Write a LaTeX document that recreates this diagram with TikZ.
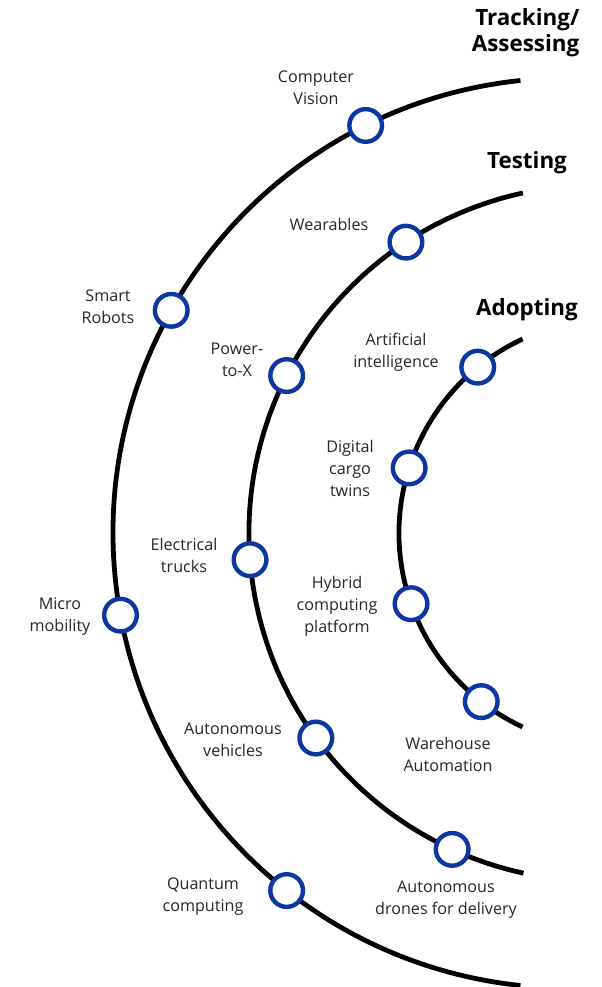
\documentclass[tikz,border=0pt]{standalone}
\usepackage{fontspec}
\setmainfont{Open Sans}
\definecolor{ringblue}{RGB}{12,55,160}
\begin{document}
\begin{tikzpicture}
    [x=0.75pt,y=0.75pt,
     track/.style={line width=3.6pt},
     dot/.style={circle,draw=ringblue,line width=3.3pt,fill=white,minimum size=24.5pt,inner sep=0pt},
     lbl/.style={align=center,font=\fontsize{12.1}{16.5}\selectfont,text=black!85},
     head/.style={align=right,font=\bfseries\fontsize{16.8}{19.5}\selectfont}]
    \useasboundingbox (0,0) rectangle (601,987);
    \coordinate (oc) at (568,454);
    \coordinate (mc) at (597,454);
    \coordinate (ic) at (613,454);
    \draw[track] (oc) ++(96:455) arc[start angle=96,end angle=264,radius=455];
    \draw[track] (mc) ++(102.3:348) arc[start angle=102.3,end angle=257.8,radius=348];
    \draw[track] (ic) ++(115:214) arc[start angle=115,end angle=245,radius=214];
    \node[head,anchor=east](ta) at (584,954){Tracking/\\Assessing};
    \node[head](te) at (527,824){Testing};
    \node[head](ad) at (527,677){Adopting};
    \node[dot](cv) at ([shift={(116.4:455)}]oc){};
    \node[dot](sr) at ([shift={(150.7:455)}]oc){};
    \node[dot](mm) at ([shift={(190.4:455)}]oc){};
    \node[dot](qc) at ([shift={(231.8:455)}]oc){};
    \node[dot](we) at ([shift={(123.3:348)}]mc){};
    \node[dot](pt) at ([shift={(153.1:348)}]mc){};
    \node[dot](et) at ([shift={(184.4:348)}]mc){};
    \node[dot](av) at ([shift={(216.1:348)}]mc){};
    \node[dot](ar) at ([shift={(245.4:348)}]mc){};
    \node[dot](ai) at ([shift={(129.2:214)}]ic){};
    \node[dot](dc) at ([shift={(162.3:214)}]ic){};
    \node[dot](hc) at ([shift={(199.3:214)}]ic){};
    \node[dot](wa) at ([shift={(232:214)}]ic){};
    \node[lbl](cvl) at (316,899){Computer\\Vision};
    \node[lbl](wel) at (329,763){Wearables};
    \node[lbl](srl) at (108,680){Smart\\Robots};
    \node[lbl](ptl) at (237,627){Power-\\to-X};
    \node[lbl](ail) at (396,635){Artificial\\intelligence};
    \node[lbl](dcl) at (350,519){Digital\\cargo\\twins};
    \node[lbl](etl) at (184,432){Electrical\\trucks};
    \node[lbl](mml) at (60,370){Micro\\mobility};
    \node[lbl](hcl) at (337,381){Hybrid\\computing\\platform};
    \node[lbl](avl) at (233,247){Autonomous\\vehicles};
    \node[lbl](wal) at (448,233){Warehouse\\Automation};
    \node[lbl](qcl) at (203,90){Quantum\\computing};
    \node[lbl](adl) at (446,87){Autonomous\\drones for delivery};
\end{tikzpicture}
\end{document}
